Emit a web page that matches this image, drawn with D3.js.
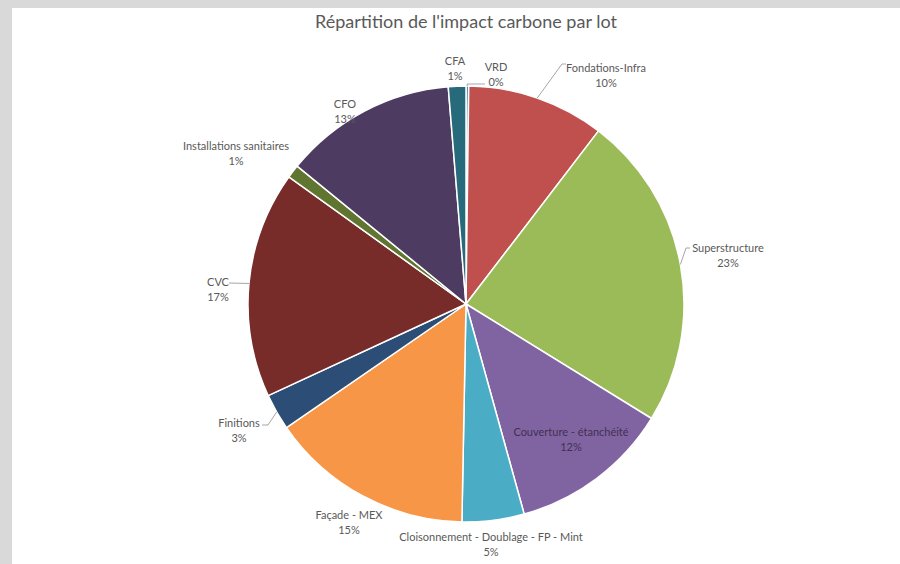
<!DOCTYPE html>
<html>
<head>
<meta charset="utf-8">
<script src="https://cdn.jsdelivr.net/npm/d3@7/dist/d3.min.js"></script>
<style>
  html, body { margin: 0; padding: 0; background: #d9d9d9; }
  svg { display: block; }
</style>
</head>
<body>
<svg id="chart" width="900" height="564"></svg>
<script>
// ---- data ----
const categories = ["VRD", "Fondations-Infra", "Superstructure", "Couverture - étanchéité",
  "Cloisonnement - Doublage - FP - Mint", "Façade - MEX", "Finitions", "CVC",
  "Installations sanitaires", "CFO", "CFA"];
const values = [0.2, 10.2, 23.4, 11.9, 4.6, 15.1, 2.7, 16.8, 1.0, 12.8, 1.3];
const pctLabels = ["0%", "10%", "23%", "12%", "5%", "15%", "3%", "17%", "1%", "13%", "1%"];
const colors = ["#4F81BD", "#C0504D", "#9BBB59", "#8064A2", "#4BACC6", "#F79646",
  "#2C4D75", "#772C2A", "#5F7530", "#4D3B62", "#276A7C"];

// ---- layout (label block centres relative to pie centre, and leader elbows) ----
const labelLayout = {
  "VRD": {dx: 30, dy: -230, leader: [[1, -220], [19, -220]]},
  "Fondations-Infra": {dx: 140, dy: -229, leader: [[96, -240], [100, -240]]},
  "Superstructure": {dx: 262, dy: -49, leader: [[220, -56], [224, -56]]},
  "Couverture - étanchéité": {dx: 105, dy: 135},
  "Cloisonnement - Doublage - FP - Mint": {dx: 25, dy: 240},
  "Façade - MEX": {dx: -117, dy: 218},
  "Finitions": {dx: -227, dy: 126, leader: [[-198, 121], [-204, 121]]},
  "CVC": {dx: -248, dy: -15, leader: [[-237, -21]]},
  "Installations sanitaires": {dx: -230, dy: -151},
  "CFO": {dx: -121, dy: -193},
  "CFA": {dx: -11, dy: -236}
};

const W = 900, H = 564;
const svg = d3.select("#chart");
svg.append("rect").attr("x", 12).attr("y", 8).attr("width", W - 12).attr("height", H - 8).attr("fill", "#ffffff");

svg.append("text")
  .attr("x", 466).attr("y", 28)
  .attr("text-anchor", "middle")
  .attr("font-family", "Lato, 'Open Sans', sans-serif")
  .attr("font-size", 18)
  .attr("fill", "#595959")
  .text("Répartition de l'impact carbone par lot");

const cx = 466, cy = 304, R = 218;
const g = svg.append("g").attr("transform", `translate(${cx},${cy})`);

const data = categories.map((c, i) => ({name: c, value: values[i], pct: pctLabels[i], color: colors[i]}));
const pie = d3.pie().value(d => d.value).sort(null).startAngle(0).endAngle(2 * Math.PI);
const arcs = pie(data);
const arc = d3.arc().innerRadius(0).outerRadius(R);
const edge = d3.arc().innerRadius(R).outerRadius(R);

g.selectAll("path.slice").data(arcs).enter().append("path")
  .attr("class", "slice")
  .attr("d", arc)
  .attr("fill", d => d.data.color)
  .attr("stroke", "#ffffff")
  .attr("stroke-width", 1.5)
  .attr("stroke-linejoin", "round");

// leader lines
arcs.forEach(a => {
  const L = labelLayout[a.data.name];
  if (!L || !L.leader) return;
  const start = edge.centroid(a);
  const pts = [start].concat(L.leader);
  g.append("path")
    .attr("d", d3.line()(pts))
    .attr("fill", "none")
    .attr("stroke", "#a6a6a6")
    .attr("stroke-width", 1);
});

// labels
arcs.forEach(a => {
  const L = labelLayout[a.data.name];
  const inside = a.data.name.startsWith("Couverture");
  const t = g.append("text")
    .attr("text-anchor", "middle")
    .attr("font-family", "Lato, 'Open Sans', sans-serif")
    .attr("font-size", 11)
    .attr("fill", inside ? "#403152" : "#595959");
  t.append("tspan").attr("x", L.dx).attr("y", L.dy - 3.5).text(a.data.name);
  t.append("tspan").attr("x", L.dx).attr("y", L.dy + 11.5).text(a.data.pct);
});
</script>
</body>
</html>
